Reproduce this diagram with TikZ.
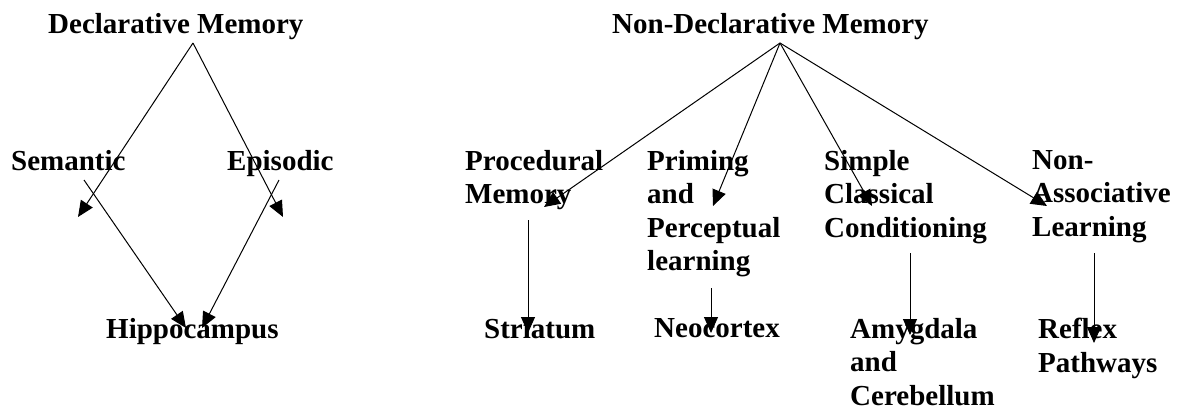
\documentclass[tikz,border=0pt]{standalone}
\usepackage{fontspec}
\setmainfont{Liberation Serif}
\usetikzlibrary{arrows.meta}
\tikzset{
  lbl/.style={anchor=north west, inner sep=0pt, align=left, font=\fontsize{29}{33.5}\selectfont\bfseries},
  arr/.style={line width=1pt, -{Triangle[length=16pt,width=14pt]}}
}
\begin{document}
\begin{tikzpicture}[x=1pt,y=-1pt]
\useasboundingbox (0,0) rectangle (1180,410);
% left tree
\node[lbl] (dm) at (48,13) {Declarative Memory};
\node[lbl] (sem) at (11,150) {Semantic};
\node[lbl] (epi) at (227,150) {Episodic};
\node[lbl] (hip) at (106,318) {Hippocampus};
\coordinate (dmo) at (193,43);
\coordinate (semt) at (78,217);
\coordinate (epit) at (283,217);
\coordinate (sems) at (84,180);
\coordinate (epis) at (279,180);
\coordinate (hipl) at (186,328);
\coordinate (hipr) at (202,328);
\draw[arr] (dmo) -- (semt);
\draw[arr] (dmo) -- (epit);
\draw[arr] (sems) -- (hipl);
\draw[arr] (epis) -- (hipr);
% right tree
\node[lbl] (ndm) at (612,13) {Non-Declarative Memory};
\node[lbl] (proc) at (465,150) {Procedural\\Memory};
\node[lbl] (prim) at (647,150) {Priming\\and\\Perceptual\\learning};
\node[lbl] (scc) at (824,150) {Simple\\Classical\\Conditioning};
\node[lbl] (nal) at (1032,150) {Non-\\Associative\\Learning};
\node[lbl] (stri) at (484,318) {Striatum};
\node[lbl] (neo) at (654,318) {Neocortex};
\node[lbl] (amy) at (850,318) {Amygdala\\and\\Cerebellum};
\node[lbl] (refl) at (1038,318) {Reflex\\Pathways};
\coordinate (ndmo) at (780,43);
\coordinate (proct) at (544,207);
\coordinate (primt) at (713,206);
\coordinate (scct) at (872,206);
\coordinate (nalt) at (1047,206);
\coordinate (procs) at (528,220);
\coordinate (stri1) at (528,333);
\coordinate (prims) at (711,288);
\coordinate (neo1) at (711,333);
\coordinate (sccs) at (910,253);
\coordinate (amy1) at (910,335);
\coordinate (nals) at (1094,253);
\coordinate (refl1) at (1094,343);
\draw[arr] (ndmo) -- (proct);
\draw[arr] (ndmo) -- (primt);
\draw[arr] (ndmo) -- (scct);
\draw[arr] (ndmo) -- (nalt);
\draw[arr] (procs) -- (stri1);
\draw[arr] (prims) -- (neo1);
\draw[arr] (sccs) -- (amy1);
\draw[arr] (nals) -- (refl1);
\end{tikzpicture}
\end{document}
